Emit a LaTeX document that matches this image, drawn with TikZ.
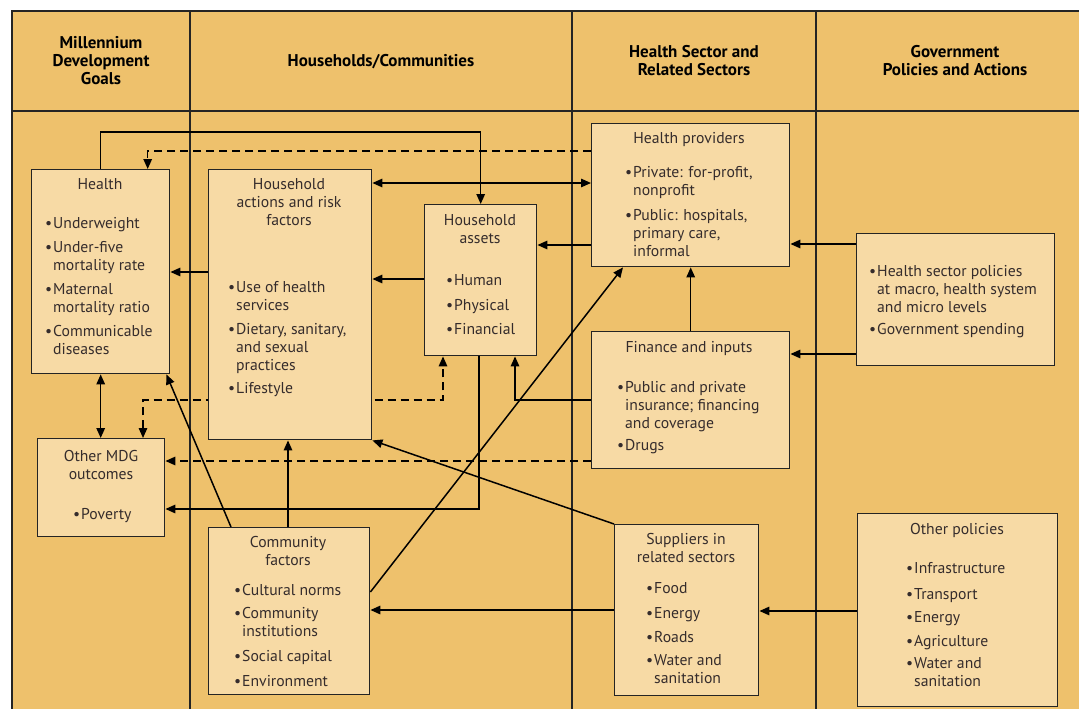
\documentclass[tikz,border=0pt]{standalone}
\usepackage{fontspec}
\setmainfont{PT Sans}
\usetikzlibrary{arrows.meta,calc}

\definecolor{bgor}{HTML}{EEC16C}
\definecolor{boxfill}{HTML}{F7DAA5}
\definecolor{boxtext}{HTML}{352C2C}
\definecolor{edge}{HTML}{242424}

\pgfdeclarelayer{back}
\pgfdeclarelayer{lines}
\pgfsetlayers{back,lines,main}

\newcommand\bodyfont{\fontsize{15.7}{18}\selectfont}
\newcommand\headfont{\fontsize{17}{18}\selectfont\bfseries}
% bullet with hanging indent for list items
\newcommand\bu{\makebox[8pt][l]{\textbullet}}
\newcommand\hi{\hspace*{8pt}}

\tikzset{
  box/.style={draw=edge, line width=1.4pt, fill=boxfill, inner sep=0pt, anchor=north west},
  title/.style={anchor=north, align=center, inner sep=0pt, text=boxtext, font=\bodyfont},
  items/.style={anchor=north west, align=left, inner sep=0pt, text=boxtext, font=\bodyfont},
  head/.style={anchor=north, align=center, inner sep=0pt, text=black, font=\headfont},
  rule/.style={draw=edge, line width=1.5pt},
  link/.style={draw=black, line width=1.5pt, -{Triangle[length=10pt,width=8.5pt]}},
  link2/.style={draw=black, line width=1.5pt, {Triangle[length=10pt,width=8.5pt]}-{Triangle[length=10pt,width=8.5pt]}},
  dashes/.style={dash pattern=on 8pt off 5pt},
}

\begin{document}
\begin{tikzpicture}[x=1pt, y=-1pt]
\useasboundingbox (0,0) rectangle (1079,709);

% panel background and column rules
\begin{pgfonlayer}{back}
  \fill[white] (0,0) rectangle (1079,709);
  \fill[bgor] (12,11) rectangle (1079,709);
  \draw[rule, line width=2pt] (12,709) |- (1079,11);
  \draw[rule] (12,111) -- (1079,111);
  \draw[rule] (190,11) -- (190,709);
  \draw[rule] (572,11) -- (572,709);
  \draw[rule] (816,11) -- (816,709);
\end{pgfonlayer}

% column headings
\node[head] (h1) at (101,36) {\strut Millennium\\Development\\Goals};
\node[head] (h2) at (381,54) {\strut Households/Communities};
\node[head] (h3) at (694,45) {\strut Health Sector and\\Related Sectors};
\node[head] (h4) at (955,45) {\strut Government\\Policies and Actions};

% boxes
\node[box, minimum width=138pt, minimum height=204pt] (health) at (31,169) {};
\node[box, minimum width=127pt, minimum height=98pt] (othermdg) at (37,438) {};
\node[box, minimum width=163pt, minimum height=270pt] (actions) at (208,169) {};
\node[box, minimum width=112pt, minimum height=151pt] (assets) at (424,204) {};
\node[box, minimum width=161pt, minimum height=167pt] (community) at (208,527) {};
\node[box, minimum width=198pt, minimum height=143pt] (providers) at (591,123) {};
\node[box, minimum width=198pt, minimum height=137pt] (finance) at (591,331) {};
\node[box, minimum width=144pt, minimum height=171pt] (suppliers) at (614,524) {};
\node[box, minimum width=198pt, minimum height=132pt] (gov) at (856,233) {};
\node[box, minimum width=200pt, minimum height=193pt] (otherpol) at (857,513) {};

% box titles
\node[title] (healthT) at (100,177) {\strut Health};
\node[title] (actionsT) at (289,177) {\strut Household\\actions and risk\\factors};
\node[title] (assetsT) at (480,213) {\strut Household\\assets};
\node[title] (providersT) at (689,131) {\strut Health providers};
\node[title] (financeT) at (689,340) {\strut Finance and inputs};
\node[title] (othermdgT) at (101,449) {\strut Other MDG\\outcomes};
\node[title] (communityT) at (288,535) {\strut Community\\factors};
\node[title] (suppliersT) at (686,532) {\strut Suppliers in\\related sectors};
\node[title] (otherpolT) at (957,522) {\strut Other policies};

% box lists
\node[items] (healthL) at (45,216) {\strut\bu Underweight\\[6pt]
  \bu Under-five\\ \hi mortality rate\\[6pt]
  \bu Maternal\\ \hi mortality ratio\\[6pt]
  \bu Communicable\\ \hi diseases};
\node[items] (actionsL) at (228,280) {\strut\bu Use of health\\ \hi services\\[6pt]
  \bu Dietary, sanitary,\\ \hi and sexual\\ \hi practices\\[5pt]
  \bu Lifestyle};
\node[items] (assetsL) at (446,273) {\strut\bu Human\\[6.5pt]
  \bu Physical\\[6pt]
  \bu Financial};
\node[items] (providersL) at (625,165) {\strut\bu Private: for-profit,\\ \hi nonprofit\\[7pt]
  \bu Public: hospitals,\\ \hi primary care,\\ \hi informal};
\node[items] (financeL) at (617,380) {\strut\bu Public and private\\ \hi insurance; financing\\ \hi and coverage\\[4pt]
  \bu Drugs};
\node[items] (govL) at (869,264) {\strut\bu Health sector policies\\ \hi at macro, health system\\ \hi and micro levels\\[4pt]
  \bu Government spending};
\node[items] (othermdgL) at (73,507) {\strut\bu Poverty};
\node[items] (communityL) at (234,583) {\strut\bu Cultural norms\\[5pt]
  \bu Community\\ \hi institutions\\[7pt]
  \bu Social capital\\[7pt]
  \bu Environment};
\node[items] (suppliersL) at (646,581) {\strut\bu Food\\[7pt]
  \bu Energy\\[6pt]
  \bu Roads\\[5pt]
  \bu Water and\\ \hi sanitation};
\node[items] (otherpolL) at (906,561) {\strut\bu Infrastructure\\[8pt]
  \bu Transport\\[5pt]
  \bu Energy\\[6pt]
  \bu Agriculture\\[4pt]
  \bu Water and\\ \hi sanitation};

% connectors
\begin{pgfonlayer}{lines}
  \draw[link] (health.north) -- ++(0,-37) -| (assets.north);
  \draw[link, dashes] (providers.west |- 0,151) -| ($(health.north)+(47,0)$);
  \draw[link2] (actions.east |- 0,183) -- (providers.west |- 0,183);
  \draw[link] (providers.west |- 0,245) -- (assets.east |- 0,245);
  \draw[link] (assets.west |- 0,279) -- (actions.east |- 0,279);
  \draw[link] (actions.west |- 0,272) -- (health.east |- 0,272);
  \draw[link2] (health.south) -- (othermdg.north -| health.south);
  \draw[link2, dashes] (othermdg.north -| 143,0) |- (443,400) -- (assets.south -| 443,0);
  \draw[link] (finance.west |- 0,400) -| (assets.south -| 515,0);
  \draw[link, dashes] (finance.west |- 0,461) -- (othermdg.east |- 0,461);
  \draw[link] (assets.south -| 479,0) |- (othermdg.east |- 0,509);
  \draw[link] (community.north -| 288,0) -- (actions.south -| 288,0);
  \draw[link] (community.north -| 231,0) -- ($(health.south east)+(-4,0)$);
  \draw[link] (community.east |- 0,592) -- (providers.south -| 623,0);
  \draw[link] (suppliers.north west) -- (actions.south east);
  \draw[link] (suppliers.west |- 0,610) -- (community.east |- 0,610);
  \draw[link] (finance.north) -- (providers.south);
  \draw[link] (gov.west |- 0,244) -- (providers.east |- 0,244);
  \draw[link] (gov.west |- 0,354) -- (finance.east |- 0,354);
  \draw[link] (otherpol.west |- 0,611) -- (suppliers.east |- 0,611);
\end{pgfonlayer}
\end{tikzpicture}
\end{document}
